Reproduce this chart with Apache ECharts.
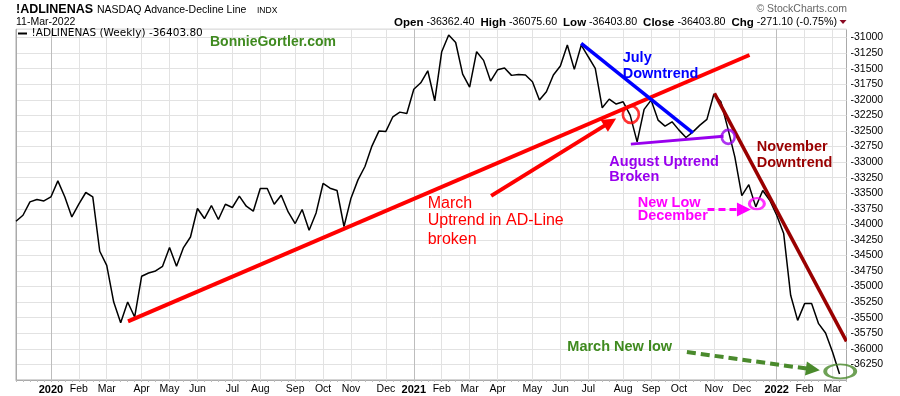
<!DOCTYPE html>
<html><head><meta charset="utf-8">
<script src="https://cdn.jsdelivr.net/npm/echarts@6/dist/echarts.min.js"></script>
<style>html,body{margin:0;padding:0;background:#fff}#c{width:900px;height:396px}</style>
</head><body><div id="c"></div>
<script>
// ---- categories: weekly bars (Friday dates) ----
const weeks = [
 '2019-12-06','2019-12-13','2019-12-20','2019-12-27',
 '2020-01-03','2020-01-10','2020-01-17','2020-01-24','2020-01-31','2020-02-07','2020-02-14','2020-02-21','2020-02-28',
 '2020-03-06','2020-03-13','2020-03-20','2020-03-27','2020-04-03','2020-04-10','2020-04-17','2020-04-24','2020-05-01',
 '2020-05-08','2020-05-15','2020-05-22','2020-05-29','2020-06-05','2020-06-12','2020-06-19','2020-06-26','2020-07-03',
 '2020-07-10','2020-07-17','2020-07-24','2020-07-31','2020-08-07','2020-08-14','2020-08-21','2020-08-28','2020-09-04',
 '2020-09-11','2020-09-18','2020-09-25','2020-10-02','2020-10-09','2020-10-16','2020-10-23','2020-10-30','2020-11-06',
 '2020-11-13','2020-11-20','2020-11-27','2020-12-04','2020-12-11','2020-12-18','2020-12-25',
 '2021-01-01','2021-01-08','2021-01-15','2021-01-22','2021-01-29','2021-02-05','2021-02-12','2021-02-19','2021-02-26',
 '2021-03-05','2021-03-12','2021-03-19','2021-03-26','2021-04-02','2021-04-09','2021-04-16','2021-04-23','2021-04-30',
 '2021-05-07','2021-05-14','2021-05-21','2021-05-28','2021-06-04','2021-06-11','2021-06-18','2021-06-25','2021-07-02',
 '2021-07-09','2021-07-16','2021-07-23','2021-07-30','2021-08-06','2021-08-13','2021-08-20','2021-08-27','2021-09-03',
 '2021-09-10','2021-09-17','2021-09-24','2021-10-01','2021-10-08','2021-10-15','2021-10-22','2021-10-29','2021-11-05',
 '2021-11-12','2021-11-19','2021-11-26','2021-12-03','2021-12-10','2021-12-17','2021-12-24','2021-12-31',
 '2022-01-07','2022-01-14','2022-01-21','2022-01-28','2022-02-04','2022-02-11','2022-02-18','2022-02-25',
 '2022-03-04','2022-03-11','2022-03-18'
];
// ---- weekly close of !ADLINENAS ----
const adValues = [
 -33950,-33854,-33640,-33601,-33624,-33560,-33302,-33560,-33881,-33677,
 -33489,-33560,-34432,-34658,-35248,-35579,-35248,-35489,-34834,-34781,
 -34749,-34674,-34373,-34674,-34373,-34203,-33746,-33907,-33698,-33923,
 -33677,-33730,-33548,-33709,-33789,-33424,-33424,-33677,-33532,-33801,
 -33987,-33762,-34095,-33817,-33344,-33420,-33457,-34035,-33580,-33286,
 -33071,-32744,-32503,-32508,-32273,-32198,-32219,-31831,-31727,-31534,
 -32016,-31228,-30960,-31080,-31587,-31796,-31228,-31367,-31699,-31518,
 -31490,-31608,-31592,-31603,-31711,-32005,-31871,-31603,-31458,-31121,
 -31511,-31121,-31309,-31495,-32129,-31989,-32069,-32032,-32246,-32675,
 -32154,-32005,-32326,-32423,-32354,-32487,-32605,-32515,-32407,-32315,
 -31908,-32032,-32460,-32916,-33540,-33363,-33720,-33457,-33613,-33854,
 -34148,-35140,-35542,-35273,-35273,-35595,-35746,-36051,-36403.8, null
];
// ---- x tick labels (first bar of each month) ----
const monthTicks = ['2020-01-10','2020-02-07','2020-03-06','2020-04-10','2020-05-08','2020-06-05','2020-07-10',
 '2020-08-07','2020-09-11','2020-10-09','2020-11-06','2020-12-11','2021-01-08','2021-02-05','2021-03-05','2021-04-02',
 '2021-05-07','2021-06-04','2021-07-02','2021-08-06','2021-09-03','2021-10-01','2021-11-05','2021-12-03','2022-01-07',
 '2022-02-04','2022-03-04'];
const monthNames = ['Jan','Feb','Mar','Apr','May','Jun','Jul','Aug','Sep','Oct','Nov','Dec'];
// ---- header values ----
const headerLabels = ['Open','High','Low','Close','Chg'];
const headerValues = ['-36362.40','-36075.60','-36403.80','-36403.80','-271.10 (-0.75%)'];
// ---- annotations in data coordinates [weekIndex, value] ----
const redTrend = [[16.05,-35558],[105.1,-31281]];
const blueTrend = [[80.98,-31093],[96.99,-32531]];
const purpleTrend = [[88.1,-32712],[101.38,-32584]];
const maroonTrend = [[100.08,-31897],[119.0,-35879]];
const redArrow = [[68.08,-33543],[85.14,-32359]];
const magentaArrow = [[99.08,-33762],[104.3,-33762]];
const greenArrow = [[96.13,-36051],[114.18,-36330]];
const circles = [
 {c:[88.1,-32235], s:[16,17], col:'#ff0000'},
 {c:[102.05,-32595], s:[13,14], col:'#9900ee'},
 {c:[106.16,-33669], s:[15,11], col:'#ff00ff'},
 {c:[118.1,-36362], s:[30,14], col:'#4a8a2c'}
];

const FONT = "'Liberation Sans', Arial, sans-serif";
const tickSet = new Set(monthTicks);
const chart = echarts.init(document.getElementById('c'), null, {renderer:'canvas'});

function txt(text, x, y, size, color, bold, align){
  return {type:'text', z:100, style:{text, x, y, fill:color,
    font:(bold?'bold ':'')+size+'px '+FONT, textVerticalAlign:'middle', textAlign:align||'left'}};
}
const graphics = [
  txt('!ADLINENAS',16,9.5,12.5,'#000',true),
  txt('NASDAQ Advance-Decline Line',97,10,10.5,'#000',false),
  txt('INDX',257,10.5,8.5,'#000',false),
  txt('11-Mar-2022',16,22.5,10.5,'#000',false),
  {type:'text', z:100, style:{x:837, y:22.5, textAlign:'right', textVerticalAlign:'middle',
    text: headerLabels.map((l,i)=>'{b|'+l+'} '+headerValues[i]).join('  '),
    font:'10.7px '+FONT, fill:'#000', rich:{b:{font:'bold 11.5px '+FONT, fill:'#000'}}}},
  {type:'polygon', z:100, shape:{points:[[839.5,20],[846.5,20],[843,24]]}, style:{fill:'#8a0a23'}},
  txt('\u00A9 StockCharts.com',847,9,10.5,'#666',false,'right'),
  {type:'rect', z:100, shape:{x:18,y:32.5,width:9,height:2}, style:{fill:'#000'}},
  {type:'text', z:100, style:{text:'!ADLINENAS (Weekly) -36403.80', x:31.5, y:33.5, fill:'#000', font:"10.5px 'DejaVu Sans', sans-serif", textVerticalAlign:'middle'}},
  txt('BonnieGortler.com',210,42,14,'#3f8a1f',true),
  txt('July',622.7,58.3,14.5,'#0000ff',true),
  txt('Downtrend',622.7,73.5,14.5,'#0000ff',true),
  txt('March',427.7,204,16,'#ff0000',false),
  txt('Uptrend in AD-Line',427.7,221,16,'#ff0000',false),
  txt('broken',427.7,240,16,'#ff0000',false),
  txt('August Uptrend',609.3,161.7,14.5,'#9900ee',true),
  txt('Broken',609.3,176.7,14.5,'#9900ee',true),
  txt('November',756.7,146.7,14.5,'#990000',true),
  txt('Downtrend',756.7,162.7,14.5,'#990000',true),
  txt('New Low',637.7,202.7,14.5,'#ff00ff',true),
  txt('December',637.7,215.5,14.5,'#ff00ff',true),
  txt('March New low',567.3,346.7,14.5,'#3f8a1f',true)
];

function seg(coords, color, width, type){
  return {coords, lineStyle:{color, width, type:type||'solid', opacity:1}};
}

const option = {
  animation:false,
  backgroundColor:'#fff',
  grid:{left:16, right:53.5, top:29.3, bottom:16, show:true, borderColor:'#aaa', borderWidth:1, backgroundColor:'transparent'},
  xAxis:[
    {type:'category', data:weeks, boundaryGap:false,
     axisLine:{show:true, lineStyle:{color:'#aaa'}},
     axisTick:{show:true, interval:0, length:2, lineStyle:{color:'#bbb'}},
     axisLabel:{interval:(i,v)=>tickSet.has(v), margin:4, color:'#000', fontSize:10.5, fontFamily:FONT,
       formatter:(v)=>{const m=+v.slice(5,7); return m===1?'{y|'+v.slice(0,4)+'}':monthNames[m-1];},
       rich:{y:{fontWeight:'bold', fontSize:11, color:'#000', fontFamily:FONT}}},
     splitLine:{show:true, interval:(i,v)=>tickSet.has(v), lineStyle:{color:'#e2e2e2', width:1}}},
    {type:'value', min:0, max:119, show:false},
    {type:'category', data:weeks, boundaryGap:false, axisLine:{show:false}, axisTick:{show:false}, axisLabel:{show:false},
     splitLine:{show:true, interval:(i,v)=>tickSet.has(v) && v.slice(5,7)==='01', lineStyle:{color:'#bdbdbd', width:1}}}
  ],
  yAxis:[{type:'value', position:'right', min:-36500, max:-30868, interval:250, scale:true,
    axisLine:{show:true, lineStyle:{color:'#aaa'}}, axisTick:{show:false},
    axisLabel:{showMinLabel:false, showMaxLabel:false, margin:4, color:'#000', fontSize:10.5, fontFamily:FONT, formatter:(v)=>String(v)},
    splitLine:{show:true, lineStyle:{color:'#e2e2e2', width:1}}}],
  series:[
    {type:'line', name:'!ADLINENAS', xAxisIndex:0, yAxisIndex:0, data:adValues, showSymbol:false, symbol:'none',
     lineStyle:{color:'#000', width:1.5}, z:5},
    {type:'lines', coordinateSystem:'cartesian2d', xAxisIndex:1, yAxisIndex:0, z:10, symbol:'none', silent:true,
     data:[seg(redTrend,'#ff0000',4), seg(blueTrend,'#0000ff',3.5), seg(purpleTrend,'#9900ee',3), seg(maroonTrend,'#990000',3.5)]},
    {type:'lines', coordinateSystem:'cartesian2d', xAxisIndex:1, yAxisIndex:0, z:10, silent:true,
     symbol:['none','triangle'], symbolSize:[13,14],
     data:[seg(redArrow,'#ff0000',4), seg(magentaArrow,'#ff00ff',3,[7,4]), seg(greenArrow,'#4a8a2c',4,[9,5])]},
    {type:'scatter', xAxisIndex:1, yAxisIndex:0, z:11, silent:true,
     data:circles.map(o=>({value:o.c, symbol:'circle', symbolSize:o.s,
       itemStyle:{color:'rgba(0,0,0,0)', borderColor:o.col, borderWidth:2.7}}))}
  ],
  graphic:graphics
};
chart.setOption(option);
</script></body></html>
